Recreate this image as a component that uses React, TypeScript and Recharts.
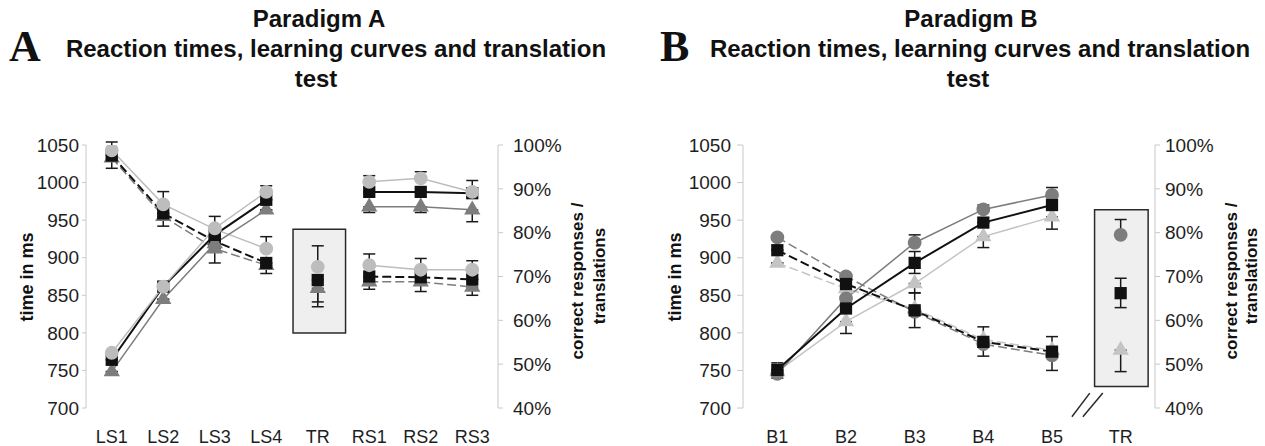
import { ComposedChart, Line, XAxis, YAxis, ErrorBar, ReferenceArea, ReferenceLine, Symbols } from "recharts";

// ---- shared scales ----
const MS_TICKS = [700, 750, 800, 850, 900, 950, 1000, 1050];
const PCT_TICKS = [40, 50, 60, 70, 80, 90, 100];

// ---- Paradigm A ----
const catsA = ["LS1", "LS2", "LS3", "LS4", "TR", "RS1", "RS2", "RS3"];
const gridTicksA = [0, 1, 2, 3, 4, 5, 6, 7, 8];

// reaction times (ms, dashed)
const rtA_circle = [1043, 971, 938, 912, null, 890, 884, 884];
const rtA_square = [1036, 959, 922, 893, null, 875, 874, 871];
const rtA_triangle = [1033, 955, 912, 890, null, 868, 868, 861];
// error bars as [minus, plus]
const rtErrA_circle = [[0, 11], [0, 17], [0, 17], [0, 16], null, [0, 15], [0, 15], [0, 12]];
const rtErrA_square = [[0, 0], [0, 0], [0, 0], [0, 0], null, [0, 0], [0, 0], [0, 0]];
const rtErrA_triangle = [[14, 0], [13, 0], [19, 0], [11, 0], null, [10, 0], [13, 0], [11, 0]];

// learning curves (% correct, solid)
const lcA_circle = [52.6, 67.7, 81, 89.3, null, 91.6, 92.4, 89.3];
const lcA_square = [51, 67.7, 79.5, 87.5, null, 89.3, 89.3, 89];
const lcA_triangle = [48.3, 64.8, 77.5, 85.2, null, 85.9, 85.9, 85.2];
const lcErrA_circle = [[0, 0], [0, 0], [0, 0], [0, 1.4], null, [0, 1.4], [0, 1.5], [0, 2.6]];
const lcErrA_square = [[0, 0], [0, 0], [0, 0], [0, 0], null, [0, 0], [0, 0], [0, 0]];
const lcErrA_triangle = [[0, 0], [0, 0], [0, 0], [0, 0], null, [1.3, 0], [1.3, 0], [2.7, 0]];

// translation test (%)
const trA = { circle: 72.2, square: 69.2, triangle: 67.3 };
const trErrA = { circle: [0, 4.8], square: [5, 0], triangle: [4.2, 0] };
const boxA = { x1: 4.02, x2: 5.04, y1: 57.1, y2: 80.8 };

// ---- Paradigm B ----
const catsB = ["B1", "B2", "B3", "B4", "B5", "TR"];
const gridTicksB = [0, 1, 2, 3, 4, 6];

const rtB_circle = [927, 875, 828, 785, 770, null];
const rtB_square = [910, 865, 830, 788, 775, null];
const rtB_triangle = [893, 859, 832, 791, 777, null];
const rtErrB_circle = [[0, 0], [0, 0], [0, 25], [0, 23], [0, 25], null];
const rtErrB_square = [[0, 0], [0, 0], [0, 0], [0, 0], [0, 0], null];
const rtErrB_triangle = [[0, 0], [4, 0], [25, 0], [22, 0], [27, 0], null];

const lcB_circle = [47.8, 65.0, 77.7, 85.3, 88.6, null];
const lcB_square = [48.7, 62.7, 73.1, 82.3, 86.3, null];
const lcB_triangle = [48.3, 59.7, 68.4, 79.1, 83.6, null];
const lcErrB_circle = [[0, 2.5], [0, 0], [0, 1.8], [0, 1.0], [0, 1.7], null];
const lcErrB_square = [[0, 0], [0, 0], [2.4, 2.6], [0, 0], [0, 0], null];
const lcErrB_triangle = [[1.5, 0], [2.7, 0], [2.1, 0], [2.5, 0], [2.8, 0], null];

const trB = { circle: 79.5, square: 66.2, triangle: 53.2 };
const trErrB = { circle: [0, 3.5], square: [3.3, 3.4], triangle: [4.9, 0] };
const boxB = { x1: 5.12, x2: 5.9, y1: 44.9, y2: 85.2 };
const breakMarksB = [
  [{ x: 4.79, y: 38.0 }, { x: 5.05, y: 43.4 }],
  [{ x: 4.95, y: 38.0 }, { x: 5.24, y: 43.4 }],
];

const AXIS = "#c8c8c8";
const TEXT = "#1e1e1e";
const SIZES: Record<string, number> = { circle: 150, square: 150, triangle: 115 };

type Shape = "circle" | "square" | "triangle";
interface Group {
  key: Shape;
  color: string;
  width: number;
  rt: (number | null)[];
  rtErr: (number[] | null)[];
  lc: (number | null)[];
  lcErr: (number[] | null)[];
  tr: number;
  trErr: number[];
  rtDash: string | undefined;
}

function markerDot(shape: Shape, color: string) {
  // eslint-disable-next-line @typescript-eslint/no-explicit-any
  return function Dot(props: any) {
    const { cx, cy, index, value } = props;
    if (cx == null || cy == null || value == null || Number.isNaN(cy)) return <g key={`n-${shape}-${index}`} />;
    return <Symbols key={`d-${shape}-${index}`} cx={cx} cy={cy} type={shape} size={SIZES[shape]} fill={color} />;
  };
}

function buildRows(cats: string[], trIndex: number, groups: Group[]) {
  return cats.map((c, i) => {
    const row: Record<string, unknown> = { x: i + 0.5, cat: c };
    groups.forEach((g) => {
      row[`rt_${g.key}`] = g.rt[i];
      row[`rtE_${g.key}`] = g.rtErr[i];
      row[`lc_${g.key}`] = g.lc[i];
      row[`lcE_${g.key}`] = g.lcErr[i];
      row[`tr_${g.key}`] = i === trIndex ? g.tr : null;
      row[`trE_${g.key}`] = i === trIndex ? g.trErr : null;
    });
    return row;
  });
}

interface PanelProps {
  cats: string[];
  gridTicks: number[];
  groups: Group[];
  trIndex: number;
  box: { x1: number; x2: number; y1: number; y2: number };
  breaks?: { x: number; y: number }[][];
  width: number;
  margin: { top: number; right: number; bottom: number; left: number };
  leftTick: { size: number; margin: number };
  rightTick: { size: number; margin: number };
}

function Panel({ cats, gridTicks, groups, trIndex, box, breaks, width, margin, leftTick, rightTick }: PanelProps) {
  const data = buildRows(cats, trIndex, groups);
  const n = cats.length;
  const catTicks = cats.map((_, i) => i + 0.5);
  return (
    <ComposedChart width={width} height={446} data={data} margin={margin}>
      <XAxis
        xAxisId="grid"
        type="number"
        dataKey="x"
        domain={[0, n]}
        ticks={gridTicks}
        tick={false}
        tickSize={6}
        tickLine={{ stroke: AXIS }}
        axisLine={{ stroke: AXIS }}
        height={0}
        allowDataOverflow
      />
      <XAxis
        xAxisId="cat"
        type="number"
        dataKey="x"
        domain={[0, n]}
        ticks={catTicks}
        interval={0}
        tickFormatter={(v) => cats[Math.floor(v)]}
        axisLine={false}
        tickLine={false}
        tickSize={6}
        tickMargin={16}
        tick={{ fill: TEXT, fontSize: 18 }}
        height={30}
        allowDataOverflow
      />
      <YAxis
        yAxisId="ms"
        domain={[700, 1050]}
        ticks={MS_TICKS}
        width={60}
        tickSize={leftTick.size}
        tickMargin={leftTick.margin}
        axisLine={{ stroke: AXIS }}
        tickLine={{ stroke: AXIS }}
        tick={{ fill: TEXT, fontSize: 19 }}
        allowDataOverflow
      />
      <YAxis
        yAxisId="pct"
        orientation="right"
        domain={[40, 100]}
        ticks={PCT_TICKS}
        width={60}
        tickFormatter={(v) => `${v}%`}
        tickSize={rightTick.size}
        tickMargin={rightTick.margin}
        axisLine={{ stroke: AXIS }}
        tickLine={{ stroke: AXIS }}
        tick={{ fill: TEXT, fontSize: 19 }}
        allowDataOverflow
      />
      <ReferenceArea
        xAxisId="grid"
        yAxisId="pct"
        x1={box.x1}
        x2={box.x2}
        y1={box.y1}
        y2={box.y2}
        fill="#efefef"
        fillOpacity={1}
        stroke="#2a2a2a"
        strokeWidth={1.5}
        ifOverflow="visible"
      />
      {breaks?.map((seg, i) => (
        <ReferenceLine
          key={`br-${i}`}
          xAxisId="grid"
          yAxisId="pct"
          segment={seg}
          stroke="#2a2a2a"
          strokeWidth={1.5}
          ifOverflow="visible"
        />
      ))}
      {groups.map((g) => (
        <Line
          key={`rt-${g.key}`}
          xAxisId="grid"
          yAxisId="ms"
          type="linear"
          dataKey={`rt_${g.key}`}
          stroke={g.color}
          strokeWidth={g.width}
          strokeDasharray={g.rtDash}
          dot={markerDot(g.key, g.color)}
          activeDot={false}
          connectNulls={false}
          isAnimationActive={false}
        >
          <ErrorBar dataKey={`rtE_${g.key}`} width={6} stroke="#1a1a1a" strokeWidth={1.5} isAnimationActive={false} />
        </Line>
      ))}
      {groups.map((g) => (
        <Line
          key={`lc-${g.key}`}
          xAxisId="grid"
          yAxisId="pct"
          type="linear"
          dataKey={`lc_${g.key}`}
          stroke={g.color}
          strokeWidth={g.width}
          dot={markerDot(g.key, g.color)}
          activeDot={false}
          connectNulls={false}
          isAnimationActive={false}
        >
          <ErrorBar dataKey={`lcE_${g.key}`} width={6} stroke="#1a1a1a" strokeWidth={1.5} isAnimationActive={false} />
        </Line>
      ))}
      {groups.map((g) => (
        <Line
          key={`tr-${g.key}`}
          xAxisId="grid"
          yAxisId="pct"
          type="linear"
          dataKey={`tr_${g.key}`}
          stroke="none"
          dot={markerDot(g.key, g.color)}
          activeDot={false}
          isAnimationActive={false}
        >
          <ErrorBar dataKey={`trE_${g.key}`} width={6} stroke="#1a1a1a" strokeWidth={1.5} isAnimationActive={false} />
        </Line>
      ))}
    </ComposedChart>
  );
}

const groupsA: Group[] = [
  { key: "triangle", color: "#7d7d7d", width: 1.5, rt: rtA_triangle, rtErr: rtErrA_triangle, lc: lcA_triangle, lcErr: lcErrA_triangle, tr: trA.triangle, trErr: trErrA.triangle, rtDash: "9 4" },
  { key: "square", color: "#111111", width: 2, rt: rtA_square, rtErr: rtErrA_square, lc: lcA_square, lcErr: lcErrA_square, tr: trA.square, trErr: trErrA.square, rtDash: "9 4" },
  { key: "circle", color: "#bdbdbd", width: 1.5, rt: rtA_circle, rtErr: rtErrA_circle, lc: lcA_circle, lcErr: lcErrA_circle, tr: trA.circle, trErr: trErrA.circle, rtDash: undefined },
];

const groupsB: Group[] = [
  { key: "triangle", color: "#c4c4c4", width: 1.5, rt: rtB_triangle, rtErr: rtErrB_triangle, lc: lcB_triangle, lcErr: lcErrB_triangle, tr: trB.triangle, trErr: trErrB.triangle, rtDash: "9 4" },
  { key: "circle", color: "#7d7d7d", width: 1.5, rt: rtB_circle, rtErr: rtErrB_circle, lc: lcB_circle, lcErr: lcErrB_circle, tr: trB.circle, trErr: trErrB.circle, rtDash: "9 4" },
  { key: "square", color: "#111111", width: 2, rt: rtB_square, rtErr: rtErrB_square, lc: lcB_square, lcErr: lcErrB_square, tr: trB.square, trErr: trErrB.square, rtDash: "9 4" },
];

const titleLine = (text: string, center: number, top: number, w: number) => (
  <div
    style={{
      position: "absolute",
      left: center - w / 2,
      top,
      width: w,
      textAlign: "center",
      fontSize: 24,
      fontWeight: "bold",
      lineHeight: "30px",
      whiteSpace: "nowrap",
    }}
  >
    {text}
  </div>
);

const rotated = (text: string, cx: number, cy: number, size: number) => (
  <div
    style={{
      position: "absolute",
      left: cx - 150,
      top: cy - 12,
      width: 300,
      height: 24,
      lineHeight: "24px",
      textAlign: "center",
      fontSize: size,
      fontWeight: "bold",
      transform: "rotate(-90deg)",
      whiteSpace: "nowrap",
    }}
  >
    {text}
  </div>
);

const bigLetter = (text: string, left: number) => (
  <div
    style={{
      position: "absolute",
      left,
      top: 22,
      fontFamily: "'Liberation Serif', 'Times New Roman', serif",
      fontSize: 44,
      fontWeight: "bold",
      lineHeight: "50px",
    }}
  >
    {text}
  </div>
);

export default function App() {
  return (
    <div
      style={{
        position: "absolute",
        left: 0,
        top: 0,
        width: 1265,
        height: 446,
        background: "#fff",
        color: "#111",
        fontFamily: "'Liberation Sans', Arial, sans-serif",
      }}
    >
      <div style={{ position: "absolute", left: 0, top: 0 }}>
        <Panel
          cats={catsA}
          gridTicks={gridTicksA}
          groups={groupsA}
          trIndex={4}
          box={boxA}
          width={632}
          margin={{ top: 145, right: 74, bottom: 8, left: 26 }}
          leftTick={{ size: 4, margin: 3 }}
          rightTick={{ size: 5, margin: 10 }}
        />
      </div>
      <div style={{ position: "absolute", left: 632, top: 0 }}>
        <Panel
          cats={catsB}
          gridTicks={gridTicksB}
          groups={groupsB}
          trIndex={5}
          box={boxB}
          breaks={breakMarksB}
          width={633}
          margin={{ top: 145, right: 50, bottom: 8, left: 51 }}
          leftTick={{ size: 6, margin: 6 }}
          rightTick={{ size: 5, margin: 5 }}
        />
      </div>

      {bigLetter("A", 9)}
      {titleLine("Paradigm A", 319, 4, 300)}
      {titleLine("Reaction times, learning curves and translation", 336, 34, 620)}
      {titleLine("test", 316, 64, 200)}

      {bigLetter("B", 660)}
      {titleLine("Paradigm B", 971, 4, 300)}
      {titleLine("Reaction times, learning curves and translation", 980, 34, 620)}
      {titleLine("test", 968, 64, 200)}

      {rotated("time in ms", 27, 277, 18)}
      {rotated("correct responses /", 578, 281, 17)}
      {rotated("translations", 600, 276, 17)}
      {rotated("time in ms", 675, 277, 18)}
      {rotated("correct responses /", 1232, 281, 17)}
      {rotated("translations", 1252, 276, 17)}
    </div>
  );
}
